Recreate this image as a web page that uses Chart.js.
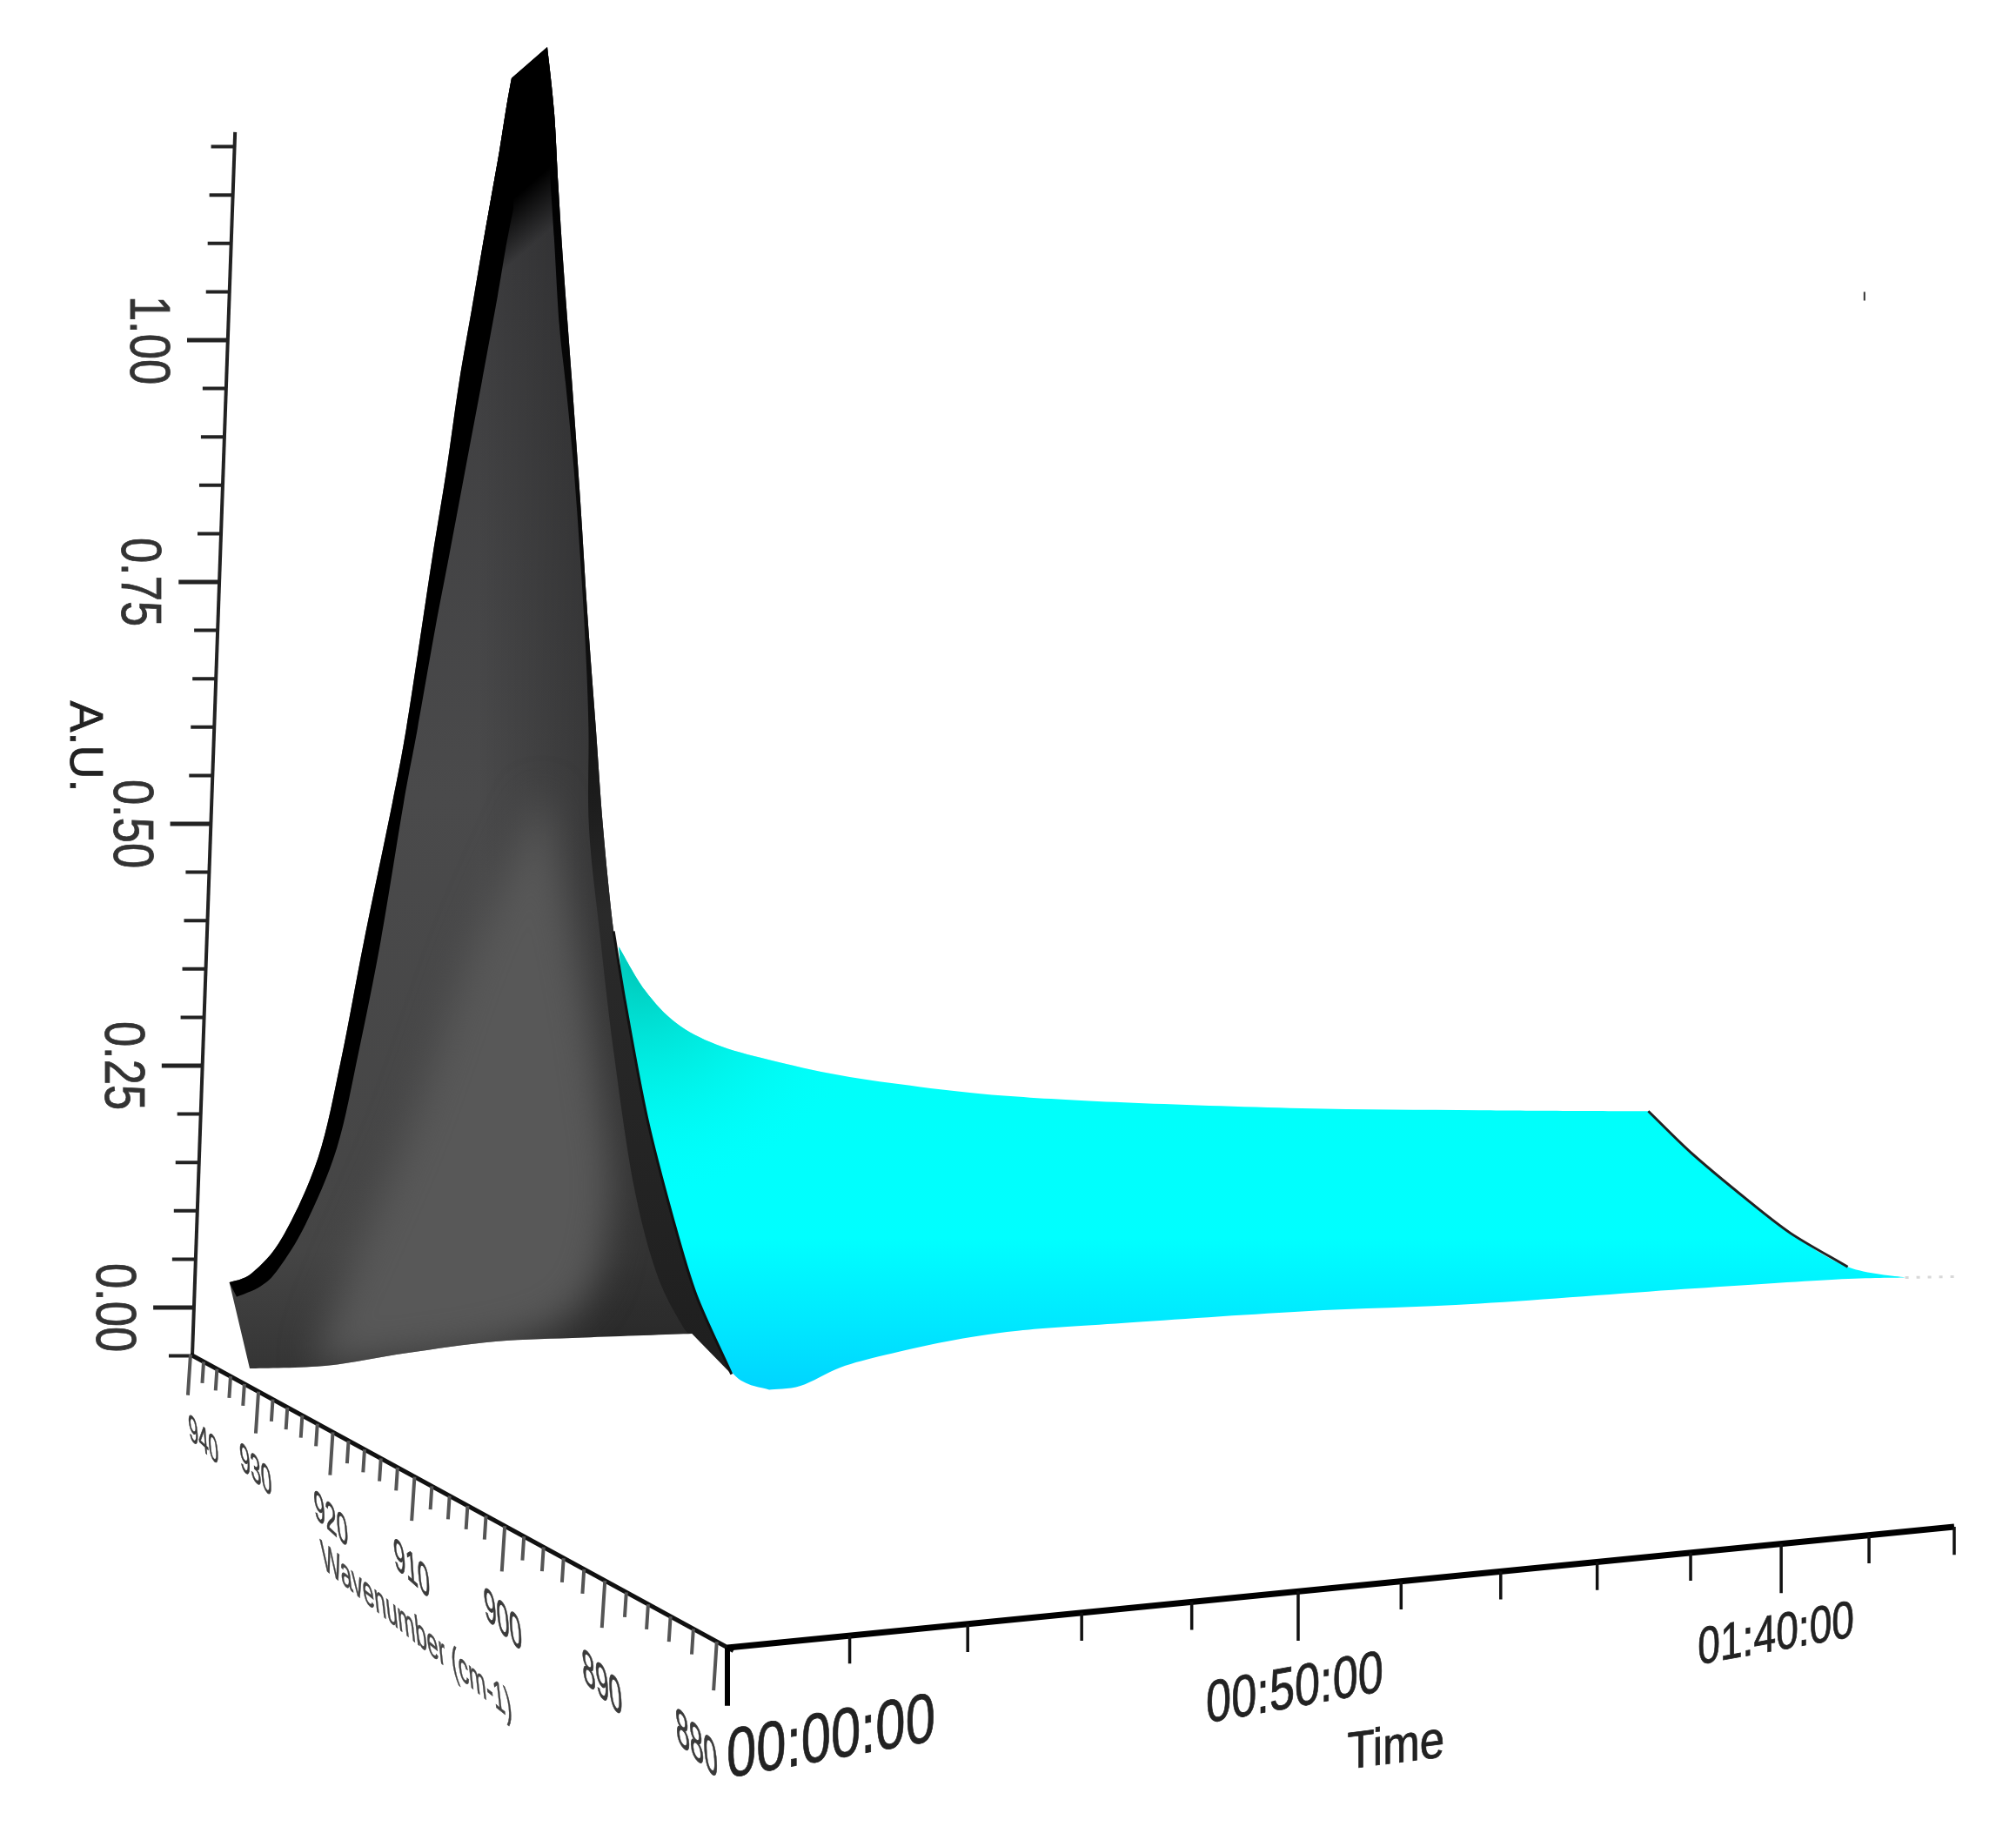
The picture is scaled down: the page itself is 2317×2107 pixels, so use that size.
<!DOCTYPE html>
<html>
<head>
<meta charset="utf-8">
<title>A.U. vs wavenumber and time</title>
<script src="https://cdn.jsdelivr.net/npm/chart.js@4"></script>
<style>
  html, body { margin: 0; padding: 0; background: #fff; }
  canvas { display: block; }
</style>
</head>
<body>
<canvas id="chart" width="2317" height="2107"></canvas>
<script>
// Axis ticks and labels
const auMajor = [0, 0.25, 0.5, 0.75, 1];
const auMinor = [-0.05, 0.05, 0.1, 0.15, 0.2, 0.3, 0.35, 0.4, 0.45, 0.55, 0.6, 0.65, 0.7, 0.8, 0.85, 0.9, 0.95, 1.05, 1.1, 1.15, 1.2];
const auLabels = ["0.00", "0.25", "0.50", "0.75", "1.00"];
const waveMajor = [940, 930, 920, 910, 900, 890, 880];
const waveMinor = [938, 936, 934, 932, 928, 926, 924, 922, 918, 916, 914, 912, 908, 906, 904, 902, 898, 896, 894, 892, 888, 886, 884, 882];
const waveLabels = ["940", "930", "920", "910", "900", "890", "880"];
const timeMajor = [0, 50, 100];
const timeMinor = [10, 20, 30, 40, 60, 70, 80, 90, 110, 120];
const timeLabels = ["00:00:00", "00:50:00", "01:40:00"];

// Surface outlines: flattened time (min) and A.U.
const ridgeTime = [-10.4, -7.9, -4.9, -1.1, 4.0, 10.8, 18.5, 26.5, 38.0, 55.0, 72.0, 88.2];
const ridgeAU = [0.373, 0.328, 0.294, 0.272, 0.256, 0.240, 0.228, 0.219, 0.212, 0.206, 0.204, 0.203];
const lastScanTime = [88.2, 92.4, 97.6, 101.8, 107.3, 112.8];
const lastScanAU = [0.203, 0.159, 0.112, 0.077, 0.042, 0.031];
const nearEdgeTime = [112.8, 106.1, 91.6, 72.0, 55.0, 38.0, 27.8, 21.0, 15.1, 10.8, 7.0, 4.0];
const nearEdgeAU = [0.031, 0.029, 0.019, 0.004, -0.004, -0.016, -0.024, -0.035, -0.049, -0.062, -0.081, -0.085];
const firstScanTime = [4.0, 0.6, -2.8, -5.3, -7.5, -9.2, -10.4];
const firstScanAU = [-0.085, -0.069, -0.005, 0.064, 0.149, 0.236, 0.373];

const peakLeftTime = [-47.7, -45.5, -42.6, -39.2, -37.0, -34.8, -32.08, -30.75, -29.3, -28.25, -26.9, -25.7, -24.5, -23.6, -22.67, -21.83, -21.17, -20.67];
const peakLeftAU = [0.026, 0.036, 0.073, 0.155, 0.256, 0.379, 0.522, 0.599, 0.701, 0.776, 0.866, 0.956, 1.031, 1.088, 1.145, 1.196, 1.241, 1.271];
const peakInnerTime = [-47.0, -44.7, -43.0, -40.4, -37.4, -35.3, -33.2, -31.0, -29.67, -28.0, -26.67, -25.0, -23.5, -22.0, -21.25, -20.5];
const peakInnerAU = [0.011, 0.022, 0.040, 0.086, 0.165, 0.265, 0.379, 0.522, 0.599, 0.701, 0.776, 0.872, 0.958, 1.046, 1.094, 1.136];
const peakRightTime = [-17.25, -16.6, -16.2, -15.7, -14.9, -14.1, -13.4, -12.6, -11.9, -10.9, -9.8, -7.7, -5.2, -3.0, 0.4];
const peakRightAU = [1.303, 1.237, 1.160, 1.076, 0.959, 0.836, 0.716, 0.599, 0.495, 0.389, 0.316, 0.196, 0.091, 0.013, -0.069];
const stripInnerTime = [-17.0, -16.6, -16.1, -15.5, -14.7, -14.1, -13.6, -13.3, -13.25, -12.2, -10.9, -9.0, -6.8, -4.3, -3.4];
const stripInnerAU = [1.172, 1.106, 1.016, 0.956, 0.866, 0.776, 0.686, 0.599, 0.495, 0.385, 0.265, 0.128, 0.036, -0.019, -0.027];
const peakBaseTime = [-3.4, -13.7, -22.2, -30.7, -38.3, -45.75];
const peakBaseAU = [-0.027, -0.031, -0.035, -0.047, -0.060, -0.063];
const sheenTime = [-17.7, -15.1, -12.2, -11.3, -16.3, -36.3, -38.7, -30.5, -24.7, -19.7];
const sheenAU = [0.536, 0.407, 0.228, 0.093, -0.015, -0.056, -0.033, 0.183, 0.362, 0.488];

const zip = (xs, ys) => xs.map((x, i) => ({ x, y: ys[i] }));
const gap = { x: NaN, y: NaN };

// The three skewed axes, placed in the flattened time / A.U. plane
function auPoint(a, len = 0) { return { x: -51.09 + 3.24 * a - len, y: a }; }
function wavePoint(w, len = 0) {
    const u = (940 - w) / 60;
    const f = u / (u + 1.349 * (1 - u));
    const grow = 1 + 0.2 * f;
    return { x: -51.42 + 50.4 * f - len * 6 * grow, y: -0.0486 - 0.2968 * f - len * grow };
}
function timePoint(m, len = 0) {
    const u = m / 120;
    const f = u / (u + 0.821 * (1 - u));
    return { x: 117.5 * f, y: -0.3516 + 0.125 * f - len };
}
function ticks(values, pointAt, len) {
    const out = [];
    values.forEach(v => { out.push(pointAt(v), pointAt(v, len), gap); });
    return out;
}

const ridge = zip(ridgeTime, ridgeAU);
const lastScan = zip(lastScanTime, lastScanAU);
const peakLeft = zip(peakLeftTime, peakLeftAU);
const peakRight = zip(peakRightTime, peakRightAU);
const peakBase = zip(peakBaseTime, peakBaseAU);

// Each shape is a list of smooth pieces with sharp corners between them
const cyanShape = [ridge, lastScan, zip(nearEdgeTime, nearEdgeAU), zip(firstScanTime, firstScanAU)];
const peakShape = [peakLeft, peakRight.slice(0, -1), peakBase];
const blackBand = [peakLeft, zip(peakInnerTime, peakInnerAU).reverse()];
const darkStrip = [peakRight, zip(stripInnerTime, stripInnerAU).reverse()];

const px = (chart, v) => chart.scales.x.getPixelForValue(v);
const py = (chart, v) => chart.scales.y.getPixelForValue(v);

function grad(chart, from, to, stops) {
    const g = chart.ctx.createLinearGradient(px(chart, from.x), py(chart, from.y), px(chart, to.x), py(chart, to.y));
    stops.forEach(s => g.addColorStop(s[0], s[1]));
    return g;
}
function tealGlow(chart) {
    const cx = px(chart, -8.4);
    const cy = py(chart, 0.353);
    const g = chart.ctx.createRadialGradient(cx, cy, 0, cx, cy, 270);
    g.addColorStop(0, "rgba(0,200,185,1)");
    g.addColorStop(0.5, "rgba(0,232,220,0.6)");
    g.addColorStop(1, "rgba(0,255,255,0)");
    return g;
}

const polygon = (pieces, paint, extra = {}) => ({ data: pieces.flat(), pieces, paint, showLine: false, pointRadius: 0, ...extra });
const line = (data, color, width, extra = {}) => ({ data, borderColor: color, borderWidth: width, showLine: true, pointRadius: 0, spanGaps: false, tension: 0, ...extra });

// bottom layer first
const layers = [
    polygon(cyanShape, c => grad(c, { x: 0, y: 0.228 }, { x: 0, y: -0.085 }, [[0, "#00fffa"], [0.5, "#00ffff"], [0.78, "#00e8ff"], [1, "#00d4ff"]])),
    polygon(cyanShape, tealGlow),
    polygon(peakShape, c => grad(c, { x: 0, y: 1.12 }, { x: 0, y: -0.06 }, [[0, "#3c3c3e"], [0.5, "#4a4a4b"], [0.9, "#454545"], [1, "#353535"]])),
    polygon(peakShape, c => grad(c, { x: -24, y: 0 }, { x: -12, y: 0 }, [[0, "rgba(0,0,0,0)"], [1, "rgba(0,0,0,0.26)"]])),
    polygon([zip(sheenTime, sheenAU)], () => "#585858", { blur: 22, clipTo: peakShape }),
    polygon(peakShape, c => grad(c, { x: -19.25, y: 1.158 }, { x: -16.25, y: 1.121 }, [[0, "#000"], [1, "rgba(0,0,0,0)"]])),
    polygon(blackBand, () => "#000"),
    polygon(darkStrip, c => grad(c, { x: 0, y: 1.2 }, { x: 0, y: -0.08 }, [[0, "#000"], [0.45, "#111"], [0.62, "#2a2a2a"], [1, "#1e1e1e"]])),
    line(peakRight.slice(-6), "#111", 3, { tension: 0.3 }),
    line(lastScan.slice(0, 5), "#222", 3, { tension: 0.3 }),
    line([{ x: 112.8, y: 0.031 }, { x: 117.8, y: 0.032 }], "#d8d8d8", 3, { borderDash: [4, 9] }),
    line([{ x: 108.9, y: 1.05 }, { x: 108.9, y: 1.041 }], "#333", 2),
    // axes
    line([auPoint(-0.05), auPoint(1.215)], "#222", 4),
    line(ticks(auMajor, auPoint, 3.9), "#222", 5),
    line(ticks(auMinor, auPoint, 2.25), "#222", 4),
    line([wavePoint(940), wavePoint(878.6)], "#111", 5),
    line(ticks(waveMajor, wavePoint, 0.042), "#555", 4),
    line(ticks(waveMinor, wavePoint, 0.022), "#555", 4),
    line([timePoint(0), timePoint(120)], "#000", 7),
    line(ticks([0], timePoint, 0.06), "#000", 6),
    line(ticks(timeMajor.slice(1), timePoint, 0.051), "#111", 3.5),
    line(ticks(timeMinor, timePoint, 0.029), "#111", 3.5)
];
layers.forEach((d, i) => { d.order = layers.length - i; });

function tracePath(ctx, chart, pieces) {
    ctx.beginPath();
    pieces.forEach((piece, n) => {
        const pts = piece.map(p => [px(chart, p.x), py(chart, p.y)]);
        if (n === 0) ctx.moveTo(pts[0][0], pts[0][1]); else ctx.lineTo(pts[0][0], pts[0][1]);
        for (let i = 0; i < pts.length - 1; i++) {
            const p0 = pts[i - 1] || pts[i], p1 = pts[i], p2 = pts[i + 1], p3 = pts[i + 2] || p2;
            ctx.bezierCurveTo(
                p1[0] + (p2[0] - p0[0]) / 6, p1[1] + (p2[1] - p0[1]) / 6,
                p2[0] - (p3[0] - p1[0]) / 6, p2[1] - (p3[1] - p1[1]) / 6,
                p2[0], p2[1]);
        }
    });
    ctx.closePath();
}

// closed shapes: the line element only fills to an axis, so fill them here
const polygonFill = {
    id: "polygonFill",
    beforeDatasetDraw(chart, args) {
        const ds = chart.data.datasets[args.index];
        if (!ds.paint) return;
        const ctx = chart.ctx;
        ctx.save();
        if (ds.clipTo) {
            tracePath(ctx, chart, ds.clipTo);
            ctx.clip();
        }
        if (ds.blur) ctx.filter = `blur(${ds.blur}px)`;
        tracePath(ctx, chart, ds.pieces);
        ctx.fillStyle = ds.paint(chart);
        ctx.fill();
        ctx.restore();
    }
};

// tick text is squeezed and sheared by the 3D view
function label(chart, text, pos, offset, font, xVec, yVec, color, weight = 0.8) {
    const ctx = chart.ctx;
    ctx.save();
    ctx.setTransform(xVec[0], xVec[1], yVec[0], yVec[1], px(chart, pos.x) + offset[0], py(chart, pos.y) + offset[1]);
    ctx.font = `${font}px "Liberation Sans"`;
    ctx.textAlign = "center";
    ctx.textBaseline = "middle";
    ctx.fillStyle = color;
    ctx.strokeStyle = color;
    ctx.lineWidth = weight;
    ctx.fillText(text, 0, 0);
    ctx.strokeText(text, 0, 0);
    ctx.restore();
}

const textLayer = {
    id: "textLayer",
    afterDraw(chart) {
        auMajor.forEach((a, i) => label(chart, auLabels[i], auPoint(a), [-94, 0], 64, [0, 0.82], [-1, 0], "#333"));
        label(chart, "A.U.", auPoint(0.58), [-150, 0], 54, [0, 1], [-1, 0], "#222");

        const waveOffset = [[15, 100], [-3, 92], [-2, 102], [-3, 108], [-2, 110], [-3, 120], [-23, 120]];
        waveMajor.forEach((w, i) => {
            const s = 1.05 + i * 0.07;
            label(chart, waveLabels[i], wavePoint(w), waveOffset[i], 36, [0.55 * s, 0.5 * s], [0.08 * s, 1.15 * s], "#3a3a3a", 0.6);
        });
        label(chart, "Wavenumber (cm-1)", wavePoint(940), [260, 320], 36, [0.67, 0.54], [0.15, 1.35], "#444", 0.5);

        const timeOffset = [[119, 106], [-4, 114], [-6, 106]];
        const timeFont = [80, 68, 60];
        timeMajor.forEach((m, i) => {
            label(chart, timeLabels[i], timePoint(m), timeOffset[i], timeFont[i], [0.77, -0.14], [0, 1], "#222");
        });
        label(chart, "Time", timePoint(60), [-6, 192], 60, [0.85, -0.11], [0, 1], "#222");
    }
};

new Chart(document.getElementById("chart"), {
    type: "scatter",
    data: { datasets: layers },
    plugins: [polygonFill, textLayer],
    options: {
        responsive: false,
        animation: false,
        layout: { padding: 0 },
        plugins: { legend: { display: false }, tooltip: { enabled: false } },
        scales: {
            x: { type: "linear", display: false, min: -836 / 12, max: (2317 - 836) / 12 },
            y: { type: "linear", display: false, min: (1503 - 2107) / 1112, max: 1503 / 1112 }
        }
    }
});
</script>
</body>
</html>
